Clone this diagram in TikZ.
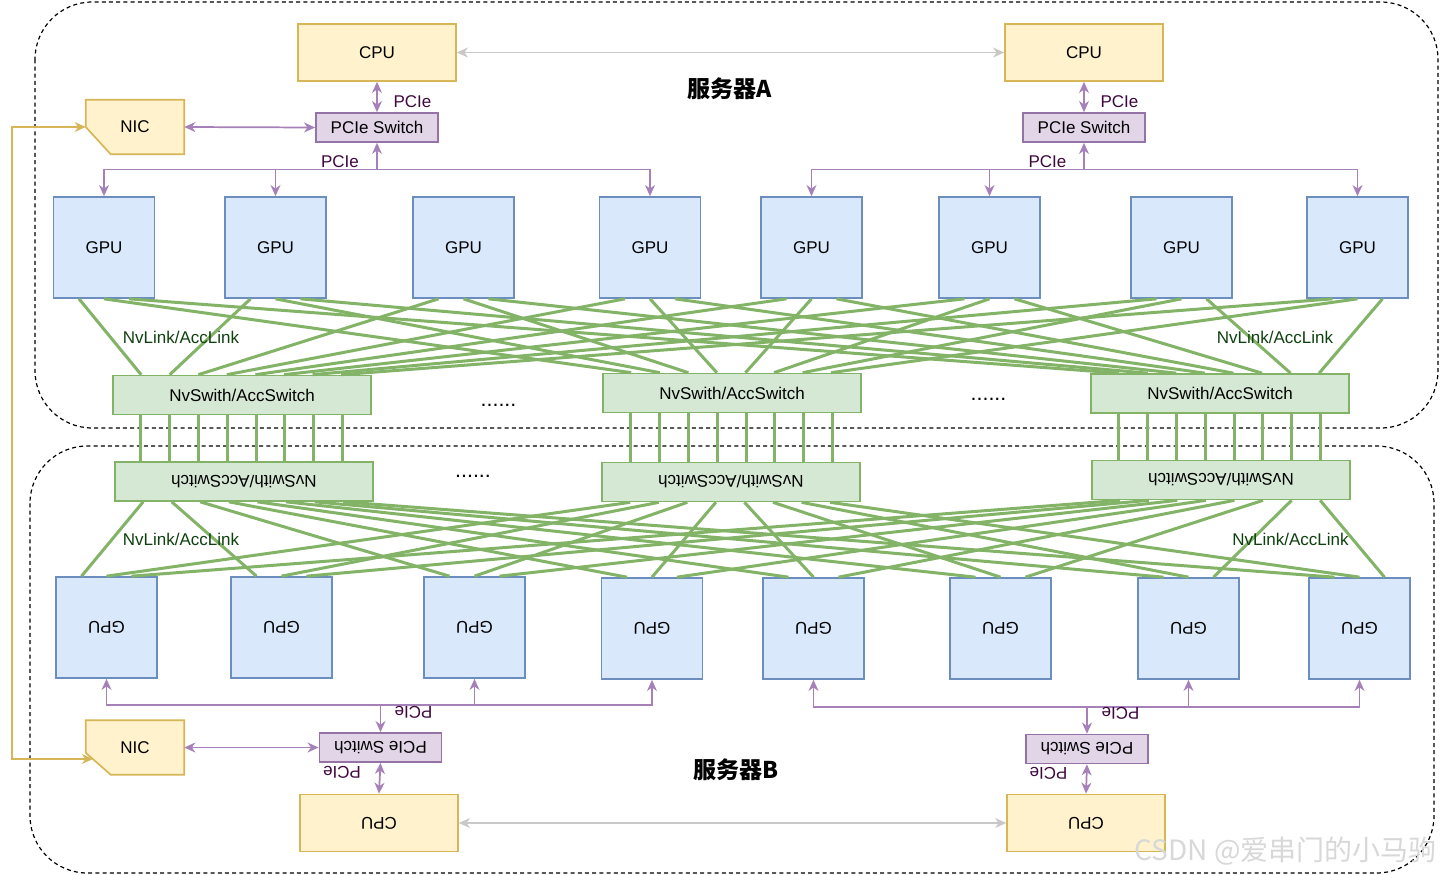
\documentclass[tikz,border=0pt]{standalone}
\usepackage{fontspec}
\setmainfont{Liberation Sans}
\newfontfamily\cjk{Noto Sans CJK SC}
\usetikzlibrary{arrows.meta,calc}
\definecolor{gpuF}{HTML}{DAE8FC}
\definecolor{gpuD}{HTML}{6C8EBF}
\definecolor{cpuF}{HTML}{FFF2CC}
\definecolor{cpuD}{HTML}{D6B656}
\definecolor{psF}{HTML}{E1D5E7}
\definecolor{psD}{HTML}{9673A6}
\definecolor{swF}{HTML}{D5E8D4}
\definecolor{swD}{HTML}{82B366}
\definecolor{arrP}{HTML}{A680B8}
\definecolor{pcT}{HTML}{3F083F}
\definecolor{nvT}{HTML}{0F400F}
\definecolor{grayA}{HTML}{C8C8C8}
\definecolor{wmC}{HTML}{D8D8D8}
\newcommand\lblf{\fontsize{12.75pt}{15pt}\selectfont}
\begin{document}
\begin{tikzpicture}[x=0.75pt,y=-0.75pt,
  >={Stealth[length=8.3pt,width=7.4pt,inset=2.6pt]},
  sz/.style 2 args={minimum width=#1*0.75pt,minimum height=#2*0.75pt},
  box/.style={draw,line width=1.25pt,inner sep=0pt,font=\lblf},
  gpu/.style={box,sz={101}{101},fill=gpuF,draw=gpuD},
  cpu/.style={box,sz={158}{57},fill=cpuF,draw=cpuD},
  psw/.style={box,sz={122}{29},fill=psF,draw=psD},
  nvs/.style={box,sz={258}{39},fill=swF,draw=swD},
  nicbox/.style={inner sep=0pt,sz={98}{54},font=\lblf},
  txt/.style={inner sep=0pt,font=\lblf},
  rtxt/.style={txt,rotate=180},
  pclab/.style={txt,text=pcT},
  rpclab/.style={pclab,rotate=180},
  nvlab/.style={txt,text=nvT},
  dots/.style={inner sep=0pt,font=\fontsize{16pt}{18pt}\selectfont,anchor=base},
  lnk/.style={draw=swD,line width=2.25pt},
  pc/.style={draw=arrP,line width=1.3pt},
  grayarrow/.style={draw=grayA,line width=1.2pt},
  yel/.style={draw=cpuD,line width=1.3pt},
  server/.style={dashed,dash pattern=on 3pt off 2.4pt,line width=0.9pt,rounded corners=43pt},
  title/.style={inner sep=0pt,font=\cjk\bfseries\fontsize{17.3pt}{19pt}\selectfont}
]
\useasboundingbox (0,0) rectangle (1440,875);
\fill[white] (0,0) rectangle (1440,875);

% server frames
\draw[server] (35,2) rectangle (1438,428);
\draw[server] (30,446) rectangle (1434,873);

% ---------- NvLink mesh (behind boxes) ----------
\path (104,247.5) coordinate (dummy);

% ---------- top server A ----------
\node[cpu] (cpua1) at (377,52.5) {CPU};
\node[cpu] (cpua2) at (1084,52.5) {CPU};
\node[psw] (psa1) at (377,127.5) {PCIe Switch};
\node[psw] (psa2) at (1084,127.5) {PCIe Switch};
\node[nicbox] (nica) at (135,127) {};
\filldraw[fill=cpuF,draw=cpuD,line width=1.25pt] (nica.north west) -- (nica.north east) -- (nica.south east) -- ($(nica.south west)+(25,0)$) -- (nica.west) -- cycle;
\node[txt] (nicat) at (nica) {NIC};
\node[title] (srvA) at (730,89) {服务器A};

\foreach \i/\x in {1/104,2/275.5,3/463.5,4/650,5/811.5,6/989.5,7/1181.5,8/1357.5}
  \node[gpu] (ga\i) at (\x,247.5) {GPU};

\node[nvs] (swa1) at (242,395) {NvSwith/AccSwitch};
\node[nvs] (swa2) at (732,393) {NvSwith/AccSwitch};
\node[nvs] (swa3) at (1220,393.5) {NvSwith/AccSwitch};
\node[dots] (dotsa1) at (498.5,406) {......};
\node[dots] (dotsa2) at (988.5,400) {......};

% ---------- bottom server B ----------
\node[nvs] (swb1) at (244,481.5) {};
\node[nvs] (swb2) at (731,482) {};
\node[nvs] (swb3) at (1221,480) {};
\node[rtxt] (swb1t) at (swb1) {NvSwith/AccSwitch};
\node[rtxt] (swb2t) at (swb2) {NvSwith/AccSwitch};
\node[rtxt] (swb3t) at (swb3) {NvSwith/AccSwitch};
\node[dots] (dotsb1) at (473,477) {......};

\foreach \i/\x/\y in {1/106.5/627.5,2/281.5/627.5,3/474.5/627.5,4/652/628.5,5/813.5/628.5,6/1000.5/628.5,7/1188.5/628.5,8/1359.5/628.5}{
  \node[gpu] (gb\i) at (\x,\y) {};
  \node[rtxt] (gbt\i) at (gb\i) {GPU};
}

\node[psw] (psb1) at (380.5,747.5) {};
\node[psw] (psb2) at (1087,749) {};
\node[rtxt] (psb1t) at (psb1) {PCIe Switch};
\node[rtxt] (psb2t) at (psb2) {PCIe Switch};
\node[cpu] (cpub1) at (379,823) {};
\node[cpu] (cpub2) at (1086,823) {};
\node[rtxt] (cpub1t) at (cpub1) {CPU};
\node[rtxt] (cpub2t) at (cpub2) {CPU};
\node[nicbox] (nicb) at (135,747.5) {};
\filldraw[fill=cpuF,draw=cpuD,line width=1.25pt] (nicb.north west) -- (nicb.north east) -- (nicb.south east) -- ($(nicb.south west)+(25,0)$) -- ($(nicb.south west)+(0,-22)$) -- cycle;
\node[txt] (nicbt) at (nicb) {NIC};
\coordinate (nicbin) at (93,759);
\node[title] (srvB) at (736,770) {服务器B};

% ---------- NvLink mesh ----------
\foreach \i in {1,...,8}{
  \draw[lnk] ($(ga\i.south)+(-25,0)$) -- ($(swa1.north west)+({29+(\i-1)*28.57},0)$);
  \draw[lnk] (ga\i.south) -- ($(swa2.north west)+({29+(\i-1)*28.57},0)$);
  \draw[lnk] ($(ga\i.south)+(25,0)$) -- ($(swa3.north west)+({29+(\i-1)*28.57},0)$);
  \draw[lnk] ($(gb\i.north)+(-25,0)$) -- ($(swb1.south west)+({29+(\i-1)*28.57},0)$);
  \draw[lnk] (gb\i.north) -- ($(swb2.south west)+({29+(\i-1)*28.57},0)$);
  \draw[lnk] ($(gb\i.north)+(25,0)$) -- ($(swb3.south west)+({29+(\i-1)*28.57},0)$);
}
\foreach \s in {1,2,3}{
  \foreach \k in {0,...,7}{
    \path ($(swa\s.south west)+({28.5+\k*28.86},0)$) coordinate (v\s\k);
    \draw[lnk] (v\s\k) -- (v\s\k |- swb\s.north);
  }
}
\node[nvlab] (nvl1) at (181,337.5) {NvLink/AccLink};
\node[nvlab] (nvl2) at (1275,337.5) {NvLink/AccLink};
\node[nvlab] (nvl3) at (181,539) {NvLink/AccLink};
\node[nvlab] (nvl4) at (1290.5,539) {NvLink/AccLink};

% ---------- PCIe top ----------
\draw[pc,<->] (cpua1.south) -- (psa1.north);
\draw[pc,<->] (cpua2.south) -- (psa2.north);
\draw[pc,<->] (nica.east) -- (psa1.west);
\coordinate (ja1) at (377,169.5);
\coordinate (ja2) at (1084,169.5);
\draw[pc,->] (ja1) -- (psa1.south);
\draw[pc,->] (ja2) -- (psa2.south);
\foreach \g in {1,2,4} \draw[pc,->] (ja1) -| (ga\g.north);
\foreach \g in {5,6,8} \draw[pc,->] (ja2) -| (ga\g.north);
\node[pclab] (pl1) at (412.5,101.5) {PCIe};
\node[pclab] (pl2) at (340,161.5) {PCIe};
\node[pclab] (pl3) at (1119.5,101.5) {PCIe};
\node[pclab] (pl4) at (1047.5,161.5) {PCIe};

% ---------- PCIe bottom ----------
\draw[pc,<->] (psb1.south) -- (cpub1.north);
\draw[pc,<->] (psb2.south) -- (cpub2.north);
\draw[pc,<->] (nicb.east) -- (psb1.west);
\coordinate (jb1) at (380.5,705);
\coordinate (jb2) at (1087,707);
\draw[pc,->] (jb1) -- (psb1.north);
\draw[pc,->] (jb2) -- (psb2.north);
\foreach \g in {1,3,4} \draw[pc,->] (jb1) -| (gb\g.south);
\foreach \g in {5,7,8} \draw[pc,->] (jb2) -| (gb\g.south);
\node[rpclab] (pl5) at (413.5,712) {PCIe};
\node[rpclab] (pl6) at (342,772) {PCIe};
\node[rpclab] (pl7) at (1120.5,713.5) {PCIe};
\node[rpclab] (pl8) at (1048.5,773.5) {PCIe};

% ---------- CPU links and NIC cable ----------
\draw[grayarrow,<->] (cpua1.east) -- (cpua2.west);
\draw[grayarrow,<->] (cpub1.east) -- (cpub2.west);
\coordinate (ya) at (12,127);
\coordinate (yb) at (12,759);
\draw[yel,<->] (nica.west) -- (ya) -- (yb) -- (nicbin);

% watermark
\node[inner sep=0pt,anchor=east,text=wmC,font=\cjk\fontsize{21pt}{22pt}\selectfont] (wm) at (1437,851) {CSDN @爱串门的小马驹};
\end{tikzpicture}
\end{document}
